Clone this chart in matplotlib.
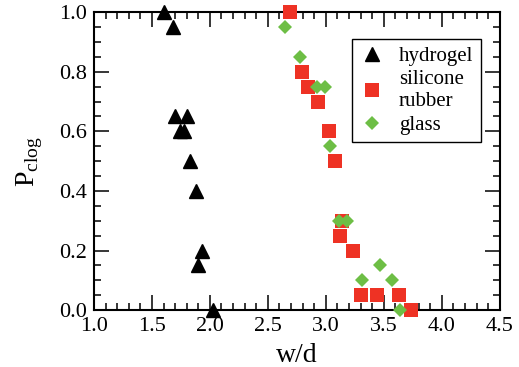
import matplotlib
matplotlib.use("Agg")
from matplotlib import pyplot as plt
from matplotlib.ticker import MultipleLocator

plt.rcParams['font.family'] = 'Liberation Serif'
plt.rcParams['mathtext.fontset'] = 'custom'
plt.rcParams['mathtext.rm'] = 'Liberation Serif'

# hydrogel
hydro_x = [1.60, 1.68, 1.70, 1.80, 1.74, 1.78, 1.83, 1.88, 1.93, 1.90, 2.03]
hydro_y = [1.00, 0.95, 0.65, 0.65, 0.60, 0.60, 0.50, 0.40, 0.20, 0.15, 0.00]

# silicone rubber
rubber_x = [2.69, 2.79, 2.85, 2.93, 3.03, 3.08, 3.12, 3.14, 3.23, 3.30, 3.44, 3.63, 3.73]
rubber_y = [1.00, 0.80, 0.75, 0.70, 0.60, 0.50, 0.25, 0.30, 0.20, 0.05, 0.05, 0.05, 0.00]

# glass
glass_x = [2.65, 2.78, 2.92, 2.99, 3.04, 3.11, 3.18, 3.31, 3.47, 3.57, 3.64]
glass_y = [0.95, 0.85, 0.75, 0.75, 0.55, 0.30, 0.30, 0.10, 0.15, 0.10, 0.00]

fig = plt.figure(figsize=(5.19, 3.67), dpi=100)
ax = fig.add_axes([0.181, 0.155, 0.782, 0.812])

ax.plot(hydro_x, hydro_y, '^', color='black', markersize=9.5, label='hydrogel', clip_on=False, zorder=3)
ax.plot(rubber_x, rubber_y, 's', color='#ee3224', markeredgewidth=0, markersize=9.5,
        label='silicone\nrubber', clip_on=False, zorder=3)
ax.plot(glass_x, glass_y, 'D', color='#6dbe45', markeredgewidth=0, markersize=7.5,
        label='glass', clip_on=False, zorder=4)

ax.set_xlim(1.0, 4.5)
ax.set_ylim(0.0, 1.0)
ax.xaxis.set_major_locator(MultipleLocator(0.5))
ax.xaxis.set_minor_locator(MultipleLocator(0.1))
ax.yaxis.set_major_locator(MultipleLocator(0.2))
ax.yaxis.set_minor_locator(MultipleLocator(0.05))
ax.xaxis.set_major_formatter(plt.FormatStrFormatter('%.1f'))
ax.yaxis.set_major_formatter(plt.FormatStrFormatter('%.1f'))

ax.tick_params(which='both', direction='in', top=True, right=True, width=1.1)
ax.tick_params(which='major', length=10.5, labelsize=16, pad=5)
ax.tick_params(which='minor', length=5)
for s in ax.spines.values():
    s.set_linewidth(1.5)

ax.set_xlabel('w/d', fontsize=20, labelpad=5)
ax.set_ylabel(r'P$_{\rm clog}$', fontsize=20, labelpad=10)

leg = ax.legend(loc='upper right', bbox_to_anchor=(0.953, 0.909), borderaxespad=0,
                prop={'family': 'Liberation Serif', 'size': 15},
                frameon=True, fancybox=False, edgecolor='black', framealpha=1,
                handlelength=1.2, handletextpad=0.7, labelspacing=0.2, borderpad=0.35)
leg.get_frame().set_linewidth(1.0)

plt.savefig("out.png", dpi=100)
